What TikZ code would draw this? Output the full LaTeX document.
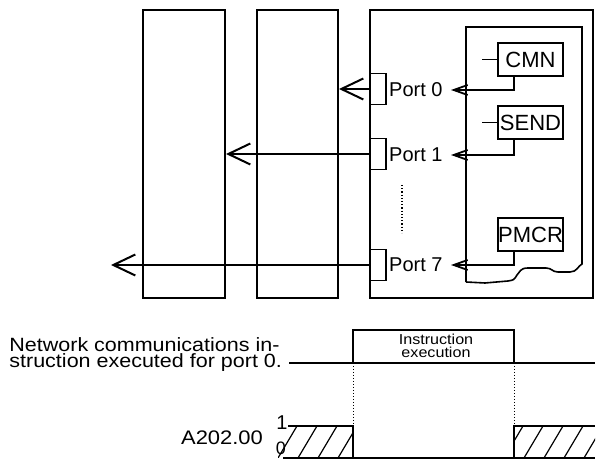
\documentclass[tikz,border=0pt]{standalone}
\usepackage{fontspec}
\setmainfont{Liberation Sans}
\newfontfamily\widesans[FakeStretch=1.12]{Liberation Sans}
\usetikzlibrary{arrows.meta,positioning}
\tikzset{
  unitbox/.style={rectangle, draw, line width=1pt, inner sep=0pt, minimum height=144pt},
  porttab/.style={rectangle, draw, line width=0.7pt, minimum width=8pt, minimum height=15.5pt, inner sep=0pt},
  instbox/.style={rectangle, draw, line width=0.8pt, minimum width=32.5pt, minimum height=16.5pt,
                  inner sep=0pt, font=\fontsize{11}{12}\selectfont},
  portlabel/.style={anchor=east, inner sep=0pt, font=\fontsize{10}{11}\selectfont},
  bigarrow/.style={-{Straight Barb[length=11pt,width=10.5pt]}, line width=1pt},
  smallarrow/.style={-{Straight Barb[length=7pt,width=5pt]}, line width=0.9pt},
  signal/.style={line width=0.7pt},
  hatch/.style={line width=0.6pt},
}

\begin{document}
\begin{tikzpicture}[x=0.5pt, y=-0.5pt]
\useasboundingbox (0,0) rectangle (611,459);

% units and ports
\node[unitbox, minimum width=41pt] (unitA) at (184,154) {};
\node[unitbox, minimum width=40.5pt] (unitB) at (297.5,154) {};
\node[unitbox, minimum width=111.5pt] (cpu) at (481.5,154) {};
\node[porttab] (tab0) at (378,89) {};
\node[porttab] (tab1) at (378,154) {};
\node[porttab] (tab7) at (378,265) {};
\node[portlabel] (port0) at (443,90) {Port 0};
\node[portlabel] (port1) at (443,155) {Port 1};
\node[portlabel] (port7) at (443,265) {Port 7};
\draw[densely dotted, line width=0.6pt] (402,185) -- (402,233);

% program area
\draw[line width=0.8pt] (466,282) -- (466,27) -- (582,27) -- (582,264)
  .. controls (578,266) and (577,272) .. (570,272) -- (558,272)
  .. controls (552,272) and (552,268) .. (546,268) -- (528,268)
  .. controls (520,268) and (520,272) .. (517,275)
  .. controls (514,280) .. (508,281) -- (485,283) -- (466,282);
\node[instbox] (cmn) at (530.5,59.5) {CMN};
\node[instbox] (send) at (530.5,122.5) {SEND};
\node[instbox] (pmcr) at (530.5,234.5) {PMCR};
\draw[line width=0.5pt] (cmn.west) -- ++(-15,0);
\draw[line width=0.5pt] (send.west) -- ++(-15,0);
\draw[smallarrow] ([xshift=-8.25pt]cmn.south) |- ([xshift=4pt]port0.east);
\draw[smallarrow] ([xshift=-8.25pt]send.south) |- ([xshift=4pt]port1.east);
\draw[smallarrow] ([xshift=-8.25pt]pmcr.south) |- ([xshift=4pt]port7.east);

% outgoing transmissions
\coordinate (farleft) at (111,265);
\draw[bigarrow] (tab0.west) -- (unitB.east |- tab0.west);
\draw[bigarrow] (tab1.west) -- (unitA.east |- tab1.west);
\draw[bigarrow] (tab7.west) -- (farleft);

% timing chart
\node[anchor=north west, align=left, inner sep=0pt, font=\widesans\fontsize{9.6}{8.3}\selectfont] (netlabel)
  at (9,337) {Network communications in-\\struction executed for port 0.};
\draw[signal] (289,363) -- (595,363);
\draw[signal] (353,363) -- (353,330) -- (514,330) -- (514,363);
\node[align=center, inner sep=0pt, font=\widesans\fontsize{7.2}{6.2}\selectfont] (execlabel) at (436,346) {Instruction\\execution};
\draw[densely dotted, line width=0.5pt] (353,363) -- (353,426);
\draw[densely dotted, line width=0.5pt] (514,363) -- (514,426);

\node[anchor=base, inner sep=0pt, font=\widesans\fontsize{9.8}{12}\selectfont] (flag) at (222,445) {A202.00};
\node[inner sep=0pt, font=\fontsize{10}{12}\selectfont] (one) at (282,423) {1};
\node[inner sep=0pt, font=\fontsize{9}{12}\selectfont] (zero) at (281,448) {0};
\draw[signal] (283,458) -- (595,458);
\draw[signal] (288,426) -- (353,426) -- (353,458);
\draw[signal] (514,458) -- (514,426) -- (595,426);
\begin{scope}
  \clip (278,426) rectangle (353,458);
  \foreach \h in {278,298,...,338} \draw[hatch] (\h,458) -- ++(19,-32);
\end{scope}
\begin{scope}
  \clip (514,426) rectangle (595,458);
  \foreach \h in {504,524,...,584} \draw[hatch] (\h,458) -- ++(19,-32);
\end{scope}
\end{tikzpicture}
\end{document}
